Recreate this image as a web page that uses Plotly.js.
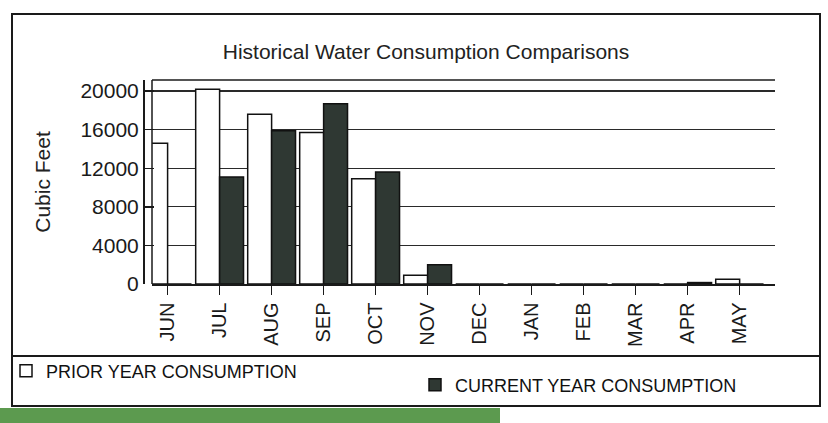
<!DOCTYPE html>
<html>
<head>
<meta charset="utf-8">
<script src="https://cdn.plot.ly/plotly-3.0.1.min.js"></script>
<style>html,body{margin:0;padding:0;background:#fff;}#chart{width:828px;height:423px;}</style>
</head>
<body>
<div id="chart"></div>
<script>
var months = ["JUN","JUL","AUG","SEP","OCT","NOV","DEC","JAN","FEB","MAR","APR","MAY"];
var priorYear = [14600, 20200, 17600, 15700, 10900, 900, 0, 0, 0, 0, 0, 500];
var currentYear = [0, 11100, 15900, 18700, 11600, 2000, 0, 0, 0, 0, 150, 0];
var yTicks = [0, 4000, 8000, 12000, 16000, 20000];

var W = 828, H = 423, ML = 140, MR = 53, MT = 80, MB = 139;
var pw = W - ML - MR, ph = H - MT - MB;
function px2x(px){ return (px - ML) / pw; }
function py2y(py){ return (H - MB - py) / ph; }

var FONT = "Liberation Sans, Arial, sans-serif";

var traces = [
  {type:"bar", name:"PRIOR YEAR CONSUMPTION", x:months, y:priorYear, legend:"legend",
   marker:{color:"#ffffff", line:{color:"#111111", width:1.5}}},
  {type:"bar", name:"CURRENT YEAR CONSUMPTION", x:months, y:currentYear, legend:"legend2",
   marker:{color:"#2f3833", line:{color:"#111111", width:1.5}}}
];

var lineStyle = {color:"#1a1a1a", width:1.5};
var legendFont = {size:18, family:FONT, color:"#111"};
var layout = {
  width:W, height:H,
  margin:{l:ML, r:MR, t:MT, b:MB, autoexpand:false},
  paper_bgcolor:"#ffffff", plot_bgcolor:"#ffffff",
  font:{family:FONT, color:"#1a1a1a"},
  barmode:"group", bargap:0.08, bargroupgap:0,
  title:{text:"Historical Water Consumption Comparisons", x:426/W, xref:"container", xanchor:"center",
         y:1-52/H, yref:"container", yanchor:"middle", font:{size:21, color:"#222"}},
  xaxis:{domain:[px2x(152), 1], type:"category", range:[-0.3, 11.68],
         showline:true, linecolor:"#1a1a1a", linewidth:1.5, mirror:false,
         ticks:"outside", ticklen:9, tickcolor:"#1a1a1a", tickwidth:1.5,
         tickangle:-90, tickfont:{size:20, family:FONT, color:"#1a1a1a"},
         showgrid:false, zeroline:false},
  yaxis:{anchor:"free", position:px2x(143), range:[0, 21150],
         tickvals:yTicks, ticktext:yTicks.map(String),
         showline:true, linecolor:"#1a1a1a", linewidth:1.5,
         ticks:"inside", ticklen:9, tickcolor:"#1a1a1a", tickwidth:1.5,
         tickfont:{size:21, family:FONT, color:"#1a1a1a"},
         showgrid:true, gridcolor:"#2a2a2a", gridwidth:1.3, zeroline:false,
         title:{text:"Cubic Feet", standoff:22, font:{size:21, family:FONT, color:"#222"}}},
  showlegend:true,
  legend:{orientation:"h", xref:"container", yref:"container", x:6/W, xanchor:"left",
          y:1-371/H, yanchor:"middle", font:legendFont, bgcolor:"rgba(0,0,0,0)"},
  legend2:{orientation:"h", xref:"container", yref:"container", x:415/W, xanchor:"left",
          y:1-385/H, yanchor:"middle", font:legendFont, bgcolor:"rgba(0,0,0,0)"},
  shapes:[
    {type:"rect", xref:"paper", yref:"paper", x0:px2x(0), x1:px2x(500), y0:py2y(408), y1:py2y(423),
     fillcolor:"#5c9a4f", line:{width:0}, layer:"below"},
    {type:"rect", xref:"paper", yref:"paper", x0:px2x(12), x1:px2x(820), y0:py2y(406), y1:py2y(14),
     line:{color:"#1a1a1a", width:2}, fillcolor:"rgba(0,0,0,0)"},
    {type:"line", xref:"paper", yref:"paper", x0:px2x(12), x1:px2x(820), y0:py2y(356), y1:py2y(356),
     line:{color:"#1a1a1a", width:2}},
    {type:"line", xref:"paper", yref:"paper", x0:px2x(152), x1:px2x(152), y0:0, y1:1, line:lineStyle},
    {type:"line", xref:"paper", yref:"paper", x0:px2x(152), x1:1, y0:1, y1:1, line:lineStyle}
  ]
};

Plotly.newPlot("chart", traces, layout, {displayModeBar:false, staticPlot:true});
</script>
</body>
</html>
